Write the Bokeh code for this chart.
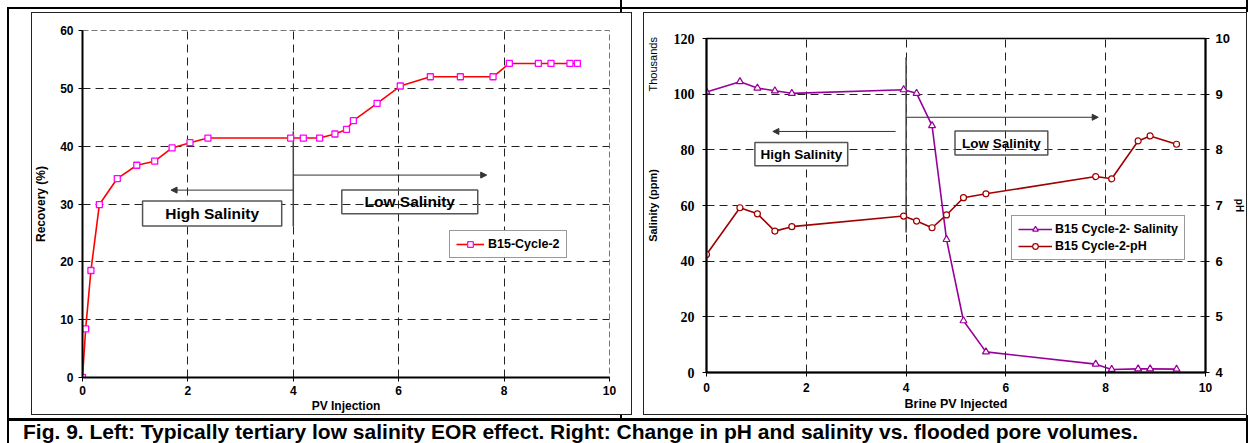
from bokeh.plotting import figure
from bokeh.models import (Range1d, LinearAxis, Arrow, NormalHead, Div,
                          FixedTicker, Legend, LegendItem)
from bokeh.embed import file_html
from bokeh.resources import INLINE
from bokeh.core.properties import value

# ---------------- data: left chart ----------------
pv_left = [0, 0.06, 0.16, 0.32, 0.66, 1.03, 1.37, 1.70, 2.04, 2.38, 3.95, 4.19, 4.50,
           4.79, 5.01, 5.14, 5.59, 6.03, 6.60, 7.17, 7.79, 8.10, 8.65, 8.89, 9.25, 9.39]
recovery = [0, 8.4, 18.5, 29.9, 34.4, 36.7, 37.4, 39.7, 40.6, 41.4, 41.4, 41.4, 41.4,
            42.1, 42.9, 44.4, 47.4, 50.4, 52.0, 52.0, 52.0, 54.3, 54.3, 54.3, 54.3, 54.3]
left_x_ticks = [0, 2, 4, 6, 8, 10]
left_y_ticks = [0, 10, 20, 30, 40, 50, 60]

# ---------------- data: right chart ----------------
pv_right = [0, 0.67, 1.02, 1.37, 1.71, 3.95, 4.21, 4.52, 4.81, 5.15, 5.60, 7.80, 8.12, 8.65, 8.89, 9.42]
salinity_k = [100.8, 104.5, 102.2, 101.2, 100.3, 101.6, 100.3, 88.7, 47.8, 18.6, 7.4,
              3.0, 1.1, 1.3, 1.3, 1.2]
ph = [6.12, 6.96, 6.85, 6.54, 6.62, 6.81, 6.72, 6.60, 6.83, 7.14, 7.21, 7.52, 7.48,
      8.16, 8.25, 8.10]
right_x_ticks = [0, 2, 4, 6, 8, 10]
right_y_ticks = [0, 20, 40, 60, 80, 100, 120]
ph_ticks = [4, 5, 6, 7, 8, 9, 10]

caption_text = ("Fig. 9. Left: Typically tertiary low salinity EOR effect. "
                "Right: Change in pH and salinity vs. flooded pore volumes.")

# annotation geometry (data units)
left_divider = dict(x=4, y0=26.1, y1=42.6)
left_arrow_high = dict(x0=4, x1=1.68, y=32.4)
left_arrow_low = dict(x0=4, x1=7.67, y=35.0)
left_box_high = dict(l=1.14, r=3.78, b=26.2, t=30.5)
left_box_low = dict(l=4.92, r=7.50, b=28.3, t=32.4)

right_divider = dict(x=4, y0=50.3, y1=113.3)
right_arrow_high = dict(x0=3.79, x1=1.33, y=86.6)
right_arrow_low = dict(x0=4, x1=7.85, y=91.7)
right_box_high = dict(l=0.97, r=2.83, b=74.3, t=82.6)
right_box_low = dict(l=4.98, r=6.84, b=78.1, t=86.8)

FONT = "Liberation Sans"
SERIF = "Liberation Serif"


def style_axis(ax, size="12px", font=FONT, label_size="12px"):
    ax.major_label_text_font = font
    ax.major_label_text_font_style = "bold"
    ax.major_label_text_font_size = size
    ax.major_label_text_color = "black"
    ax.axis_label_text_font = FONT
    ax.axis_label_text_font_style = "bold"
    ax.axis_label_text_font_size = label_size
    ax.axis_label_text_color = "black"
    ax.minor_tick_line_color = None
    ax.major_tick_in = 0
    ax.major_tick_out = 4
    ax.major_tick_line_color = "black"
    ax.axis_line_color = "black"
    ax.axis_line_width = 2


def add_box(p, box, txt, fill, size):
    p.quad(left=[box["l"]], right=[box["r"]], bottom=[box["b"]], top=[box["t"]],
           fill_color="white", fill_alpha=1.0 if fill else 0.0,
           line_color="#555555", line_width=1.5)
    p.text(x=[(box["l"] + box["r"]) / 2], y=[(box["b"] + box["t"]) / 2], text=[txt],
           text_align="center", text_baseline="middle", text_font=value(FONT),
           text_font_style="bold", text_font_size=size, text_color="black")


def add_arrow(p, a):
    p.add_layout(Arrow(x_start=a["x0"], y_start=a["y"], x_end=a["x1"], y_end=a["y"],
                       line_color="#333333", line_width=1,
                       end=NormalHead(size=6, fill_color="#333333", line_color="#333333")))


def style_legend(leg):
    leg.label_text_font = FONT
    leg.label_text_font_style = "bold"
    leg.label_text_font_size = "12.5px"
    leg.label_text_color = "black"
    leg.border_line_color = "#333333"
    leg.border_line_width = 1.5
    leg.margin = 0
    leg.glyph_height = 14
    leg.label_height = 14


# ---------------- left figure ----------------
p1 = figure(width=601, height=403, x_range=Range1d(0, 10), y_range=Range1d(0, 60),
            output_backend="svg", toolbar_location=None,
            min_border_left=51, min_border_right=23, min_border_top=18, min_border_bottom=35)
p1.outline_line_color = "#777777"
p1.outline_line_dash = "6 3"
p1.xaxis.axis_label = "PV Injection"
p1.yaxis.axis_label = "Recovery (%)"
p1.xaxis.ticker = FixedTicker(ticks=left_x_ticks)
p1.yaxis.ticker = FixedTicker(ticks=left_y_ticks)
style_axis(p1.xaxis[0])
style_axis(p1.yaxis[0])
p1.xaxis.major_label_standoff = 4
p1.xaxis.axis_label_standoff = 1
p1.yaxis.major_label_standoff = 5
p1.yaxis.axis_label_standoff = 9
for g in (p1.xgrid[0], p1.ygrid[0]):
    g.grid_line_color = "#222222"
    g.grid_line_dash = "8 5"
    g.grid_line_width = 1

p1.segment(x0=[left_divider["x"]], y0=[left_divider["y0"]], x1=[left_divider["x"]],
           y1=[left_divider["y1"]], line_color="#444444", line_width=1.5)
add_arrow(p1, left_arrow_high)
add_arrow(p1, left_arrow_low)
add_box(p1, left_box_high, "High Salinity", True, "15.5px")
add_box(p1, left_box_low, "Low Salinity", False, "15.5px")

l1 = p1.line(pv_left, recovery, line_color="#ff0000", line_width=1.6)
s1 = p1.scatter(pv_left, recovery, marker="square", size=6, line_color="#ff00ff",
                fill_color="white", line_width=1.3)
leg1 = Legend(items=[LegendItem(label="B15-Cycle-2", renderers=[l1, s1])],
              location=(367, 119))
style_legend(leg1)
leg1.glyph_width = 28
leg1.padding = 6
leg1.label_standoff = 4
p1.add_layout(leg1)
p1.styles = {"position": "absolute", "left": "31px", "top": "12px"}

# ---------------- right figure ----------------
p2 = figure(width=604, height=403, x_range=Range1d(0, 10), y_range=Range1d(0, 120),
            output_backend="svg", toolbar_location=None,
            min_border_left=62, min_border_right=38, min_border_top=26, min_border_bottom=43)
p2.extra_y_ranges = {"ph": Range1d(4, 10)}
p2.outline_line_color = "black"
p2.outline_line_width = 1.5
p2.xaxis.axis_label = "Brine PV Injected"
p2.yaxis.axis_label = "Salinity (ppm)"
p2.xaxis.ticker = FixedTicker(ticks=right_x_ticks)
p2.yaxis.ticker = FixedTicker(ticks=right_y_ticks)
style_axis(p2.xaxis[0], size="12px", label_size="12.5px")
style_axis(p2.yaxis[0], size="14px", font=SERIF, label_size="11px")
p2.xaxis.major_label_standoff = 6
p2.xaxis.axis_label_standoff = 2
p2.yaxis.major_label_standoff = 8
p2.yaxis.axis_label_standoff = 12
ax_ph = LinearAxis(y_range_name="ph", axis_label="pH", ticker=FixedTicker(ticks=ph_ticks))
style_axis(ax_ph, size="13px", label_size="10px")
ax_ph.major_label_standoff = 6
ax_ph.axis_label_standoff = 1
p2.add_layout(ax_ph, "right")
for g in (p2.xgrid[0], p2.ygrid[0]):
    g.grid_line_color = "#222222"
    g.grid_line_dash = "8 5"
    g.grid_line_width = 1

p2.segment(x0=[right_divider["x"]], y0=[right_divider["y0"]], x1=[right_divider["x"]],
           y1=[right_divider["y1"]], line_color="#444444", line_width=1.5)
add_arrow(p2, right_arrow_high)
add_arrow(p2, right_arrow_low)
add_box(p2, right_box_high, "High Salinity", True, "13.5px")
add_box(p2, right_box_low, "Low Salinity", False, "13.5px")

l2 = p2.line(pv_right, salinity_k, line_color="#990099", line_width=1.6)
s2 = p2.scatter(pv_right, salinity_k, marker="triangle", size=7, line_color="#990099",
                fill_color="white", line_width=1.2)
l3 = p2.line(pv_right, ph, line_color="#a00000", line_width=1.6, y_range_name="ph")
s3 = p2.scatter(pv_right, ph, marker="circle", size=6, line_color="#a00000",
                fill_color="white", line_width=1.2, y_range_name="ph")
leg2 = Legend(items=[LegendItem(label="B15 Cycle-2- Salinity", renderers=[l2, s2]),
                     LegendItem(label="B15 Cycle-2-pH", renderers=[l3, s3])],
              location=(305, 112))
style_legend(leg2)
leg2.glyph_width = 34
leg2.spacing = 3
leg2.padding = 6
leg2.label_standoff = 3
p2.add_layout(leg2)
p2.styles = {"position": "absolute", "left": "643px", "top": "12px"}

# ---------------- page furniture (table rules, chart frames, caption) ----------------
def box(l, t, w, h, css):
    return (f'<div style="position:absolute;left:{l}px;top:{t}px;width:{w}px;'
            f'height:{h}px;{css}"></div>')


furniture = "".join([
    box(7, 7, 1241, 2, "background:#000"),          # table top rule
    box(7, 7, 2, 436, "background:#000"),           # table left rule
    box(620, 0, 2, 12, "background:#000"),          # cell divider (top)
    box(620, 415, 2, 6, "background:#000"),         # cell divider (bottom)
    box(1246, 0, 2, 12, "background:#000"),         # right rule (top)
    box(1246, 415, 2, 28, "background:#000"),       # right rule (bottom)
    box(7, 418, 1241, 3, "background:#000"),        # rule above caption
    box(31, 12, 601, 403, "border:1px solid #222;box-sizing:border-box"),
    box(643, 12, 604, 403, "border:1px solid #222;box-sizing:border-box"),
    ('<div style="position:absolute;left:626px;top:58px;width:54px;height:13px;'
     'transform:rotate(-90deg);transform-origin:center;font-family:\'Liberation Sans\';'
     'font-size:11px;line-height:13px;text-align:center;color:#000;white-space:nowrap;">'
     'Thousands</div>'),
    ('<div style="position:absolute;left:23px;top:420px;font-family:\'Liberation Sans\';'
     'font-weight:bold;font-size:21px;line-height:24px;color:#000;white-space:nowrap;">'
     + caption_text + '</div>'),
])

overlay = Div(text=furniture, width=1254, height=443, margin=0,
              styles={"position": "absolute", "left": "0px", "top": "0px",
                      "margin": "0px", "padding": "0px", "pointer-events": "none"})

page = [p1, p2, overlay]
open("out.html", "w").write(file_html(page, INLINE))
